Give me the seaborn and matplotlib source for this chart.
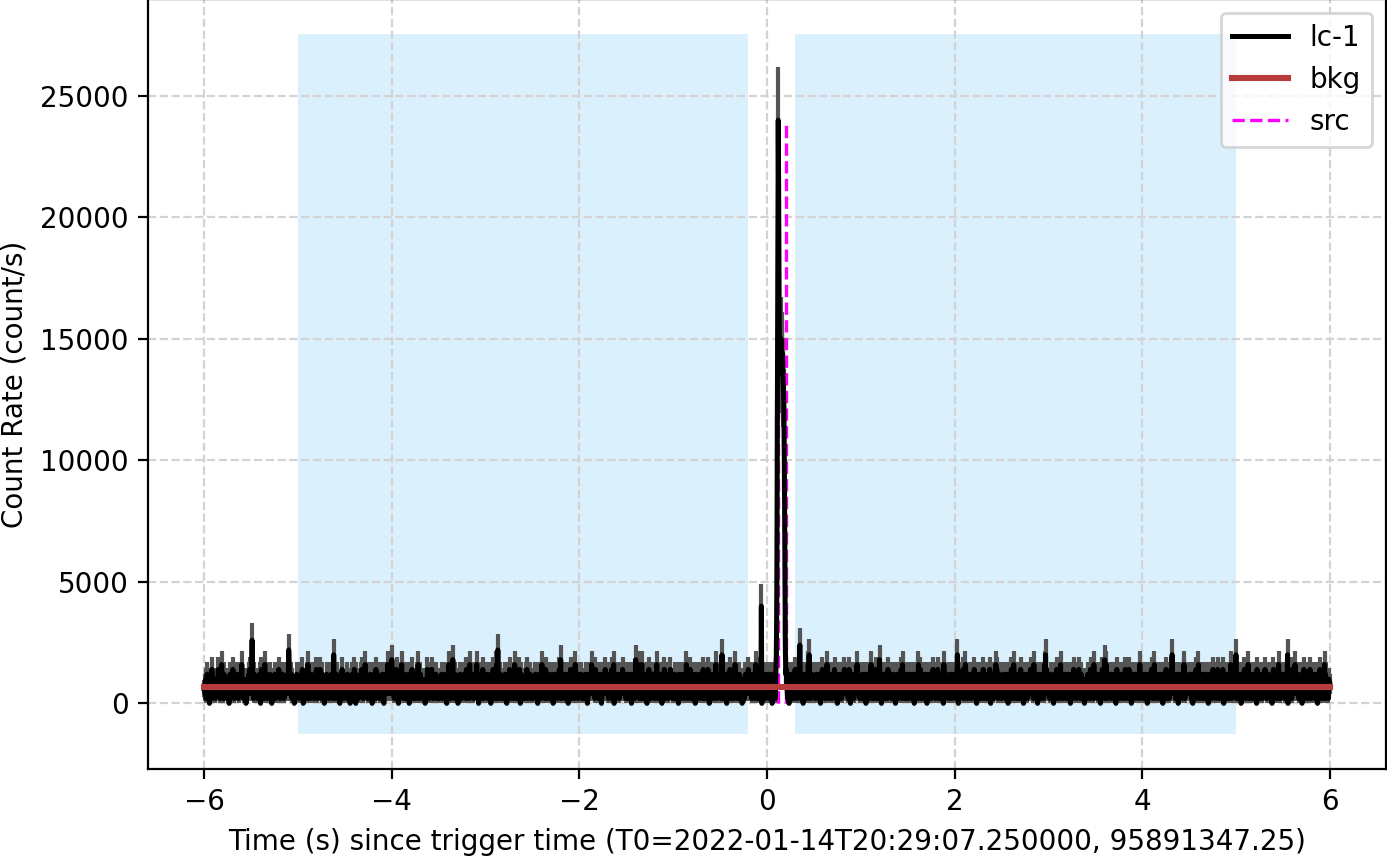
import numpy as np
import matplotlib
matplotlib.use("Agg")
import matplotlib.pyplot as plt
import seaborn as sns
import pandas as pd

# light curve counts per 5 ms bin (one digit per bin), -6 s .. 6 s
lc_counts_rows = [
    "3425136243405221763523415342437253142854316243524353102643253725143624253146342583421532401524362745",
    "2453314625342134526303725241383462143524631502354263153425274315243624135234564218524361542303412634",
    "4231542637201352436158435314263542135247615234275314623401324635241532465312835241635243102436724134",
    "3324162435204356234172406352413524637241532863524135246315043562417524635214352463102436524835246325",
    "2633412543725104231468352412634135426012453724135243162585214632453124303514723413526744132543621354",
    "3142536413254364103525843614237254163243501326345124362534172435218462543216345238412043613524731643",
    "5243162433502463724135286132543615243213564210542637412354261384236142537201623543124536712353461425",
    "1354236425104265341286352413724513624351426304123564231457634142536421356341054637124356214856324136",
    "4352613425134623501263452384625341724356213465201436542734652314625437124806213452634123564273452361",
    "2463154236403524361543263584136248152436153406317425134626351423685132546312053627143526314526754321",
    "3546213452306452136453241652845126347215346253102635413526436125741263543172403162435216345831462534",
    "4213562413526401524637251436241586245132463152403524136254327654235143625316847351426354103645231462",
    "3254162435201635241362543126854213645213574312605321546231457367145236241536405134625314863541236542",
    "5341263524136205137426351426854132546312645374213605231564213526473542635147230162435126435283645213",
    "2436153426403562431546835146253173524136254306524361524361743265341256342103462315426374182436214536",
    "4152634215364203564231586327154263415263401536425314627352416352731625436152086145236242153462514326",
    "3624153406315426347215386251436253412635427153604316254135263712546315243627103526314526857241536423",
    "1435263412546302453627135486314253614253174263501236452136452376452318462531405364213546231582637245",
    "5231462534105634217354261384263145236413526341504632157342631542675412635243102534126354217365241826",
    "3462514326401327546321486231542636415243625104726354126352413625731624537162305216354216352436182435",
    "2514362514206451236472513482351426354123645203645237164253142675124362514326504236251463587143625342",
    "4362513406354127362581362543162534216354203264351427365241356734152436217304216345231625486152436253",
    "3145263412506421537426134586314253614253641207254136245316243576341253642315302471542635126842513624",
    "2536412354203145263172453684253624135246105247315246351426754126352413624301624735214632581623542153",
    "4",
]
# isolated spikes (counts per bin)
spike_time = [-5.49, -5.10, -4.62, -4.00, -3.35, -2.87, -2.20, -1.40, -0.48, 0.35, 0.45, 1.20,
              2.03, 2.97, 3.60, 4.32, 5.00, 5.55]
spike_counts = [13, 11, 10, 9, 9, 11, 9, 9, 10, 12, 10, 9, 10, 10, 9, 10, 10, 10]
# burst (count/s)
burst_time = [-0.060, 0.095, 0.100, 0.105, 0.110, 0.115, 0.120, 0.125, 0.130, 0.135, 0.140,
              0.145, 0.150, 0.155, 0.160, 0.165, 0.170, 0.175, 0.180, 0.185, 0.190, 0.195,
              0.200]
burst_rate = [4000, 1400, 2000, 5000, 11000, 18000, 24000, 20000, 16000, 14000, 14600,
              13600, 15000, 14200, 13800, 14400, 13400, 13000, 12200, 10000, 6000, 2600,
              1200]

bkg_time = [-6.0, 6.0]
bkg_rate = [690, 690]
bkg_intervals = [(-5.0, -0.2), (0.3, 5.0)]
bkg_band = (-1260, 27550)
src_interval = [0.12, 0.20]

counts = np.array([int(c) for c in "".join(lc_counts_rows)], dtype=float)
time = np.linspace(-6, 6, len(counts))
dt = time[1] - time[0]
for t, c in zip(spike_time, spike_counts):
    counts[np.abs(time - t).argmin()] = c
for t, r in zip(burst_time, burst_rate):
    counts[np.abs(time - t).argmin()] = r * dt
rate = counts / dt
err = np.sqrt(counts) / dt

df = pd.DataFrame({"time": time, "rate": rate})

plt.rcParams.update({"font.size": 10})
fig = plt.figure(figsize=(1387 / 200, 856 / 200), dpi=200)
ax = fig.add_axes([148 / 1387, 87 / 856, 1238 / 1387, 770 / 856])

for lo, hi in bkg_intervals:
    ax.fill_between([lo, hi], bkg_band[0], bkg_band[1], color="lightskyblue", alpha=0.3, lw=0, zorder=1)

ax.vlines(time, rate - err, rate + err, color="#555555", lw=1.5, zorder=2)
src = ax.vlines(src_interval, 0, rate.max(), colors="magenta", linestyles="--", lw=1.2, zorder=2.5, label="src")
sns.lineplot(data=df, x="time", y="rate", color="k", lw=1.8, estimator=None, sort=False, ax=ax,
             label="lc-1", zorder=3)
sns.lineplot(x=bkg_time, y=bkg_rate, color="#b83c3c", lw=2.2, ax=ax, label="bkg", zorder=4)

ax.grid(True, ls="--", color="#d3d3d3", lw=0.8)
ax.set_xlabel("Time (s) since trigger time (T0=2022-01-14T20:29:07.250000, 95891347.25)")
ax.set_ylabel("Count Rate (count/s)")

handles = ax.get_lines()[:2] + [src]
ax.legend(handles=handles, labels=["lc-1", "bkg", "src"], loc="upper right")

fig.savefig("out.png", dpi=200)
